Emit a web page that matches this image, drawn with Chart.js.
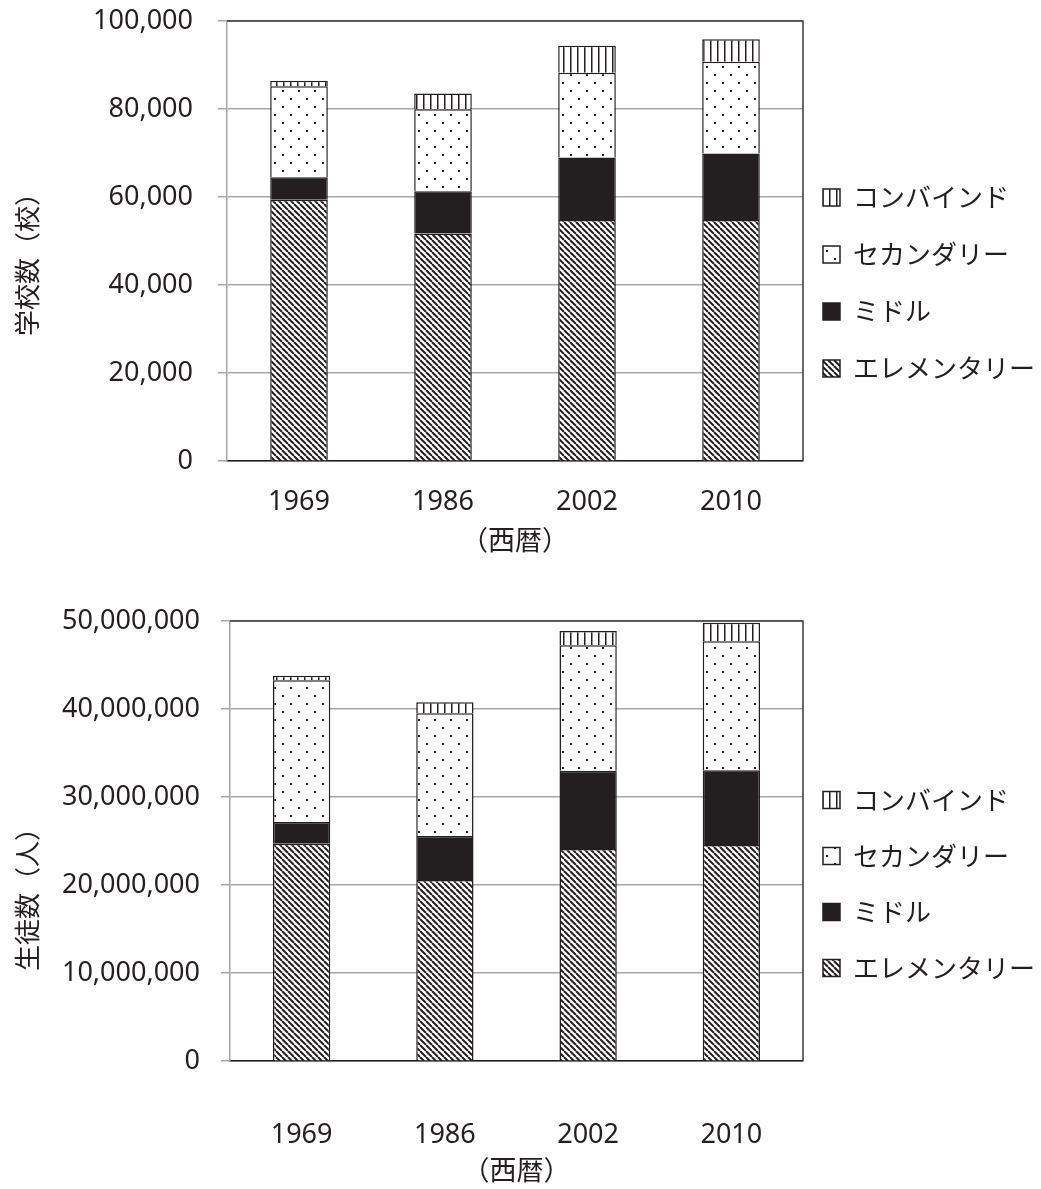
<!DOCTYPE html>
<html lang="ja">
<head>
<meta charset="utf-8">
<script src="https://cdn.jsdelivr.net/npm/chart.js@4.4.1/dist/chart.umd.min.js"></script>
<style>
    html, body { margin: 0; padding: 0; background: #fff; }
    body { width: 1041px; height: 1189px; position: relative; overflow: hidden; }
    .chart-box { position: absolute; left: 0; width: 1041px; }
    #schools-box { top: 0; height: 575px; }
    #students-box { top: 589px; height: 600px; }
</style>
</head>
<body>
<div class="chart-box" id="schools-box"><canvas id="schools-chart"></canvas></div>
<div class="chart-box" id="students-box"><canvas id="students-chart"></canvas></div>
<script>
// Categories and series
const years = ['1969', '1986', '2002', '2010'];
const seriesNames = ['エレメンタリー', 'ミドル', 'セカンダリー', 'コンバインド'];

// 学校数（校）
const schoolElementary = [59400, 51750, 54800, 54800];
const schoolMiddle = [5100, 9600, 14200, 15100];
const schoolSecondary = [20700, 18600, 19250, 20850];
const schoolCombined = [1200, 3600, 6150, 5100];
const schoolTicks = [0, 20000, 40000, 60000, 80000, 100000];

// 生徒数（人）
const studentElementary = [24700000, 20570000, 24100000, 24550000];
const studentMiddle = [2460000, 5000000, 8900000, 8500000];
const studentSecondary = [16100000, 13940000, 14250000, 14660000];
const studentCombined = [530000, 1250000, 1600000, 2090000];
const studentTicks = [0, 10000000, 20000000, 30000000, 40000000, 50000000];

const ink = '#231f20';
Chart.defaults.font.family = '"Noto Sans", "Noto Sans CJK JP", sans-serif';
Chart.defaults.color = ink;

// Fill patterns
function makePattern(size, draw) {
    const c = document.createElement('canvas');
    c.width = size;
    c.height = size;
    const g = c.getContext('2d');
    g.fillStyle = '#fff';
    g.fillRect(0, 0, size, size);
    draw(g, size);
    return g.createPattern(c, 'repeat');
}

const hatchFill = makePattern(6, (g, s) => {
    g.strokeStyle = ink;
    g.lineWidth = 2;
    for (const k of [-1, 0, 1]) {
        g.beginPath();
        g.moveTo(k * s, 0);
        g.lineTo(k * s + s, s);
        g.stroke();
    }
});
const dotFill = makePattern(16, (g) => {
    g.fillStyle = ink;
    g.fillRect(2, 2, 2, 2);
    g.fillRect(10, 10, 2, 2);
});
const stripeFill = makePattern(7, (g, s) => {
    g.fillStyle = ink;
    g.fillRect(3, 0, 1.5, s);
});
const fills = [hatchFill, ink, dotFill, stripeFill];

// Dark frame on top and right of the plot area
const framePlugin = {
    id: 'frame',
    afterDraw(chart) {
        const { ctx, chartArea: a } = chart;
        ctx.save();
        ctx.strokeStyle = '#3a3a3a';
        ctx.lineWidth = 1.5;
        ctx.beginPath();
        ctx.moveTo(a.left, a.top);
        ctx.lineTo(a.right, a.top);
        ctx.lineTo(a.right, a.bottom);
        ctx.stroke();
        ctx.restore();
    }
};

// Rotated y-axis title
const yTitlePlugin = {
    id: 'yTitle',
    afterDraw(chart, args, opts) {
        const { ctx, chartArea: a } = chart;
        ctx.save();
        ctx.translate(opts.x, (a.top + a.bottom) / 2 + opts.dy);
        ctx.rotate(-Math.PI / 2);
        ctx.font = '26px "Noto Sans CJK JP", sans-serif';
        ctx.fillStyle = ink;
        ctx.textAlign = 'center';
        ctx.textBaseline = 'middle';
        ctx.fillText(opts.text, 0, 0);
        ctx.restore();
    }
};

// Legend sits a little closer to the plot and a little higher
const legendNudge = {
    id: 'legendNudge',
    afterLayout(chart, args, opts) {
        const lg = chart.legend;
        const dx = chart.chartArea.right + opts.gap - lg.options.labels.padding - lg.left;
        lg.left += dx;
        lg.right += dx;
        lg.top += opts.dy;
        lg.bottom += opts.dy;
    }
};

function buildChart(canvas, series, ticks, opts) {
    return new Chart(canvas, {
        type: 'bar',
        data: {
            labels: years,
            datasets: series.map((values, i) => ({
                label: seriesNames[i],
                data: values,
                backgroundColor: fills[i],
                borderColor: ink,
                borderWidth: 1.5,
                categoryPercentage: 0.4,
                barPercentage: 1.0
            }))
        },
        options: {
            responsive: true,
            maintainAspectRatio: false,
            animation: false,
            layout: { padding: opts.padding },
            scales: {
                x: {
                    stacked: true,
                    grid: { display: false, drawTicks: false },
                    border: { color: ink, width: 1.5 },
                    ticks: { padding: opts.xPad, font: { size: 27 } },
                    title: {
                        display: true,
                        text: '（西暦）',
                        font: { size: 27 },
                        padding: { top: opts.titlePad, bottom: 0 }
                    }
                },
                y: {
                    stacked: true,
                    min: ticks[0],
                    max: ticks[ticks.length - 1],
                    ticks: {
                        stepSize: ticks[1] - ticks[0],
                        padding: opts.yPad,
                        font: { size: 27 },
                        callback: v => v.toLocaleString('en-US')
                    },
                    grid: { color: '#a6a6a6', lineWidth: 1.5, tickLength: 9 },
                    border: { color: '#a6a6a6', width: 1.5 },
                    afterFit: s => {
                        s.width = opts.axisLeft;
                        s.paddingTop = 0;
                        s.paddingBottom = 0;
                    }
                }
            },
            plugins: {
                legend: {
                    position: 'right',
                    reverse: true,
                    labels: {
                        boxWidth: 17,
                        boxHeight: 17,
                        padding: opts.legendPad,
                        font: { size: 26, family: '"Noto Sans CJK JP", sans-serif' },
                        color: ink
                    }
                },
                tooltip: { enabled: false },
                yTitle: opts.yTitle,
                legendNudge: opts.legendNudge
            }
        },
        plugins: [framePlugin, yTitlePlugin, legendNudge]
    });
}

buildChart(document.getElementById('schools-chart'),
    [schoolElementary, schoolMiddle, schoolSecondary, schoolCombined], schoolTicks, {
        padding: { top: 21, right: -15, bottom: 16, left: 0 },
        axisLeft: 227,
        xPad: 25,
        titlePad: -17,
        yPad: 25,
        legendPad: 31,
        legendNudge: { gap: 20, dy: -7 },
        yTitle: { text: '学校数（校）', x: 27, dy: 17 }
    });

buildChart(document.getElementById('students-chart'),
    [studentElementary, studentMiddle, studentSecondary, studentCombined], studentTicks, {
        padding: { top: 32, right: -14, bottom: 0, left: 0 },
        axisLeft: 230,
        xPad: 58,
        titlePad: -53,
        yPad: 21,
        legendPad: 30,
        legendNudge: { gap: 20, dy: -21 },
        yTitle: { text: '生徒数（人）', x: 27, dy: 52 }
    });
</script>
</body>
</html>
